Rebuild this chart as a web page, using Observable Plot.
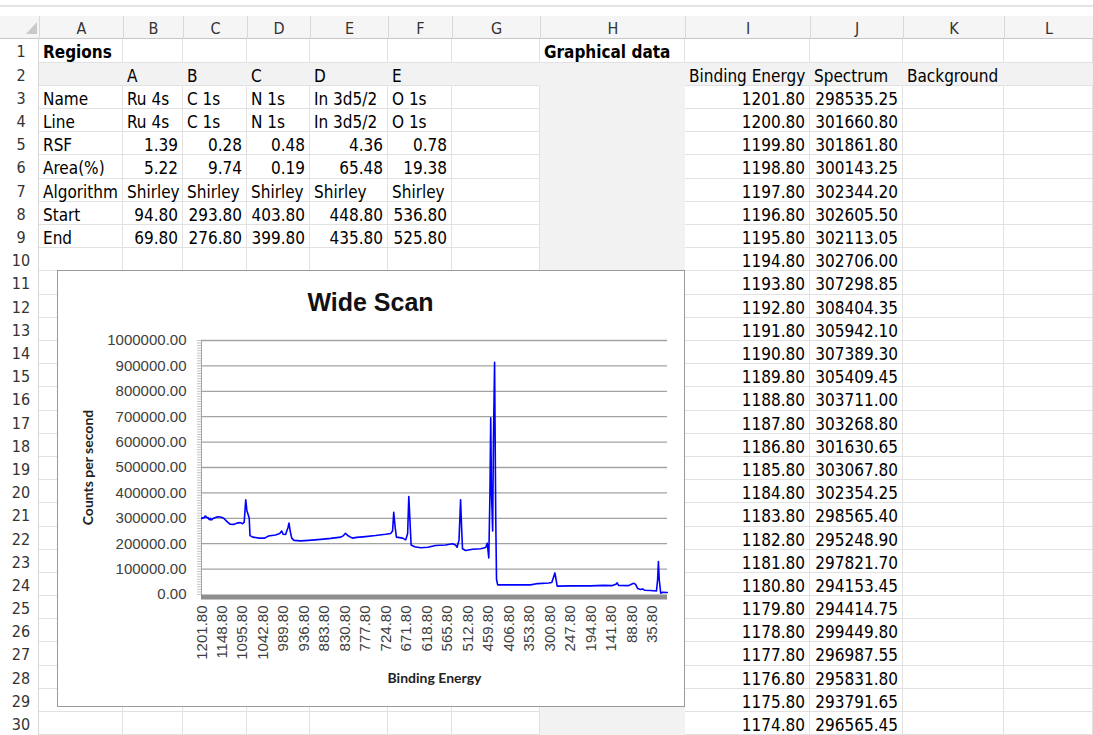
<!DOCTYPE html>
<html><head><meta charset="utf-8">
<script src="https://cdn.jsdelivr.net/npm/d3@7"></script>
<script src="https://cdn.jsdelivr.net/npm/@observablehq/plot@0.6"></script>
<style>
body{margin:0;width:1093px;height:735px;overflow:hidden;background:#fff;position:relative;font-family:"DejaVu Sans Condensed","DejaVu Sans",sans-serif;}
.cell{position:absolute;box-sizing:border-box;font-size:17px;line-height:23px;padding:2px 4px 0 4px;white-space:nowrap;color:#000;overflow:visible;}
.hdr{position:absolute;box-sizing:border-box;font-size:16px;color:#333;text-align:center;line-height:22px;padding-top:2px;}
#chart{position:absolute;left:57px;top:270px;width:628px;height:437px;background:#fff;outline:1px solid #9a9a9a;outline-offset:-1px;}
#chart svg{display:block;}
</style></head><body>
<div id="sheet"></div>
<div id="chart"></div>
<script>
// ---------- data ----------
const regionIds = ["A", "B", "C", "D", "E"];
const regionNames = ["Ru 4s", "C 1s", "N 1s", "In 3d5/2", "O 1s"];
const regionLines = ["Ru 4s", "C 1s", "N 1s", "In 3d5/2", "O 1s"];
const regionRSF = [1.39, 0.28, 0.48, 4.36, 0.78];
const regionArea = [5.22, 9.74, 0.19, 65.48, 19.38];
const regionAlgorithm = ["Shirley", "Shirley", "Shirley", "Shirley", "Shirley"];
const regionStart = [94.80, 293.80, 403.80, 448.80, 536.80];
const regionEnd = [69.80, 276.80, 399.80, 435.80, 525.80];
const regionRowLabels = ["Name", "Line", "RSF", "Area(%)", "Algorithm", "Start", "End"];
const graphHeaders = ["Binding Energy", "Spectrum", "Background"];

const tableEnergy = [1201.8,1200.8,1199.8,1198.8,1197.8,1196.8,1195.8,1194.8,1193.8,1192.8,1191.8,1190.8,1189.8,1188.8,1187.8,1186.8,1185.8,1184.8,1183.8,1182.8,1181.8,1180.8,1179.8,1178.8,1177.8,1176.8,1175.8,1174.8];
const tableSpectrum = [298535.25,301660.80,301861.80,300143.25,302344.20,302605.50,302113.05,302706.00,307298.85,308404.35,305942.10,307389.30,305409.45,303711.00,303268.80,301630.65,303067.80,302354.25,298565.40,295248.90,297821.70,294153.45,294414.75,299449.80,296987.55,295831.80,293791.65,296565.45];

const traceEnergy = [1170.8,1160.8,1152.8,1144.8,1136.8,1128.8,1118.8,1110.8,1102.8,1095.8,1091.8,1087.8,1084.8,1080.8,1078.8,1076.8,1069.8,1053.8,1038.8,1028.8,1010.8,999.8,994.8,990.8,984.8,978.8,975.8,972.8,968.8,962.8,945.8,924.8,893.8,867.8,841.8,834.8,829.8,821.8,811.8,800.8,777.8,751.8,725.8,712.8,707.8,704.8,700.8,697.8,681.8,673.8,668.8,665.8,662.8,659.8,650.8,634.8,616.8,596.8,570.8,552.8,544.8,540.8,535.8,531.8,528.8,526.8,518.8,500.8,479.8,466.8,462.8,458.8,455.8,453.8,451.8,448.8,446.8,443.8,440.8,438.8,435.8,402.8,350.8,331.8,303.8,295.8,289.8,287.8,284.8,281.8,246.8,195.8,161.8,138.8,129.8,126.8,122.8,96.8,89.8,83.8,78.8,73.8,65.8,60.8,55.8,40.8,24.8,21.8,19.8,17.8,13.8,8.8,-3.2];
const traceSpectrum = [300000,306000,305000,300000,288000,277000,276000,281000,283000,279000,285000,373000,330000,311000,300000,232000,226000,222000,222000,230000,234000,240000,250000,237000,236000,262000,281000,250000,222000,213000,211000,213000,217000,221000,226000,232000,241000,230000,222000,225000,228000,232000,237000,240000,250000,324000,260000,226000,222000,215000,240000,386000,290000,195000,188000,184000,186000,193000,195000,200000,195000,186000,215000,373000,250000,180000,173000,178000,180000,185000,202000,144000,400000,696000,400000,250000,600000,914000,300000,60000,38000,38000,38000,43000,45000,47000,75000,85000,60000,33000,34000,34000,36000,35000,40000,46000,36000,35000,40000,44000,40000,24000,20000,22000,17000,16000,14000,60000,130000,60000,5000,9000,8000];

const xTickLabels = [1201.8,1148.8,1095.8,1042.8,989.8,936.8,883.8,830.8,777.8,724.8,671.8,618.8,565.8,512.8,459.8,406.8,353.8,300.8,247.8,194.8,141.8,88.8,35.8];
const yTickValues = [0,100000,200000,300000,400000,500000,600000,700000,800000,900000,1000000];
const yMinorStep = 10000;

// ---------- sheet layout ----------
const colLetters = ["A","B","C","D","E","F","G","H","I","J","K","L"];
const colEdges = [39,123,183,247,310,388,452,540,685,810,903,1004,1093];
const rowTop0 = 39.3, rowH = 23.2, nRows = 30;
const rowTop = r => Math.round(rowTop0 + (r - 1) * rowH);
const grid = "#e1e1e1", shade = "#f2f2f2";
const sheet = document.getElementById("sheet");
function div(cls, css, text){const d=document.createElement("div");if(cls)d.className=cls;d.style.cssText=css;if(text!=null)d.textContent=text;sheet.appendChild(d);return d;}

// top strip + column header row
div(null,"position:absolute;left:0;top:5px;width:1093px;height:2px;background:#e4e4e4;");
div(null,"position:absolute;left:0;top:16px;width:1093px;height:23.3px;background:#f5f5f5;border-bottom:1px solid #c8c8c8;box-sizing:border-box;");
div(null,"position:absolute;left:26px;top:22px;width:0;height:0;border-left:11px solid transparent;border-bottom:12px solid #c9c9c9;");
colLetters.forEach((L,i)=>{
  div("hdr",`left:${colEdges[i]}px;top:16px;width:${colEdges[i+1]-colEdges[i]}px;height:23px;border-left:1px solid #d8d8d8;`,L);
});
// row numbers
for(let r=1;r<=nRows;r++){
  const t=rowTop(r), h=rowTop(r+1)-t;
  div("hdr",`left:4px;top:${t}px;width:35px;height:${h}px;line-height:${h-2}px;border-right:1px solid #d8d8d8;`,String(r));
}
// cell contents
const content = {};
function put(r,c,text,opt={}){content[r+","+c]={text,...opt};}
put(1,0,"Regions",{bold:true});
put(1,7,"Graphical data",{bold:true});
regionIds.forEach((v,i)=>put(2,i+1,v));
graphHeaders.forEach((v,i)=>put(2,8+i,v));
regionRowLabels.forEach((v,i)=>put(3+i,0,v));
regionIds.forEach((_,i)=>{
  put(3,i+1,regionNames[i]);
  put(4,i+1,regionLines[i]);
  put(5,i+1,regionRSF[i].toFixed(2),{right:true});
  put(6,i+1,regionArea[i].toFixed(2),{right:true});
  put(7,i+1,regionAlgorithm[i]);
  put(8,i+1,regionStart[i].toFixed(2),{right:true});
  put(9,i+1,regionEnd[i].toFixed(2),{right:true});
});
tableEnergy.forEach((e,i)=>{
  put(3+i,8,e.toFixed(2),{right:true});
  put(3+i,9,tableSpectrum[i].toFixed(2),{right:true});
});
for(let r=1;r<=nRows;r++){
  const t=rowTop(r), h=rowTop(r+1)-t;
  for(let c=0;c<colLetters.length;c++){
    const x=colEdges[c], w=colEdges[c+1]-x;
    const isH = c===7 && r>=2;
    const isRow2 = r===2;
    const bg = (isH||isRow2)?shade:"#fff";
    const bR = isH||isRow2 ? shade : grid;
    const bB = isH ? shade : grid;
    const k=content[r+","+c];
    div("cell",`left:${x}px;top:${t}px;width:${w}px;height:${h}px;background:${bg};border-right:1px solid ${bR};border-bottom:1px solid ${bB};`+
      (k&&k.right?"text-align:right;":"")+(k&&k.bold?"font-weight:bold;":""), k?k.text:null);
  }
}

// ---------- chart ----------
const series = tableEnergy.map((e,i)=>({be:e,cps:tableSpectrum[i]}))
  .concat(traceEnergy.map((e,i)=>({be:e,cps:traceSpectrum[i]})));
const minorTicks = d3.range(yTickValues[0], yTickValues[yTickValues.length-1]+1, yMinorStep);
const labelFont = "'Liberation Sans', Arial, sans-serif";
const titleFont = "Lato, 'Liberation Sans', sans-serif";

const chart = Plot.plot({
  width: 628, height: 437,
  marginLeft: 144, marginRight: 18, marginTop: 70, marginBottom: 113,
  style: {fontFamily: labelFont, fontSize: "15px", color: "#404040", background: "transparent"},
  x: {type: "linear", domain: [1202.3, -3.7], label: null},
  y: {domain: [0, 1000000], label: null},
  marks: [
    Plot.gridY(yTickValues.slice(1), {stroke: "#a3a3a3", strokeOpacity: 1, strokeWidth: 1.3}),
    Plot.axisY({ticks: minorTicks, tickSize: 4, tickFormat: () => "", stroke: "#c4c4c4"}),
    Plot.axisY({ticks: yTickValues, tickSize: 0, tickPadding: 15, tickFormat: d => d.toFixed(2), fill: "#404040", fontSize: 15}),
    Plot.frame({anchor: "left", stroke: "#a3a3a3"}),
    Plot.ruleY([0], {stroke: "#8e8e8e", strokeWidth: 5, dy: 2.5}),
    Plot.axisX({ticks: xTickLabels, tickSize: 0, tickRotate: -90, tickPadding: 11, tickFormat: d => d.toFixed(2), fill: "#404040", fontSize: 15}),
    Plot.line(series, {x: "be", y: "cps", stroke: "#0000ff", strokeWidth: 1.6}),
    Plot.text(["Wide Scan"], {text: d => d, frameAnchor: "top", lineAnchor: "middle", dx: -64, dy: -38, fontSize: 25, fontWeight: "bold", fill: "#111", fontFamily: labelFont}),
    Plot.text(["Counts per second"], {text: d => d, frameAnchor: "left", textAnchor: "middle", lineAnchor: "middle", rotate: -90, dx: -113, fontSize: 14, fontWeight: "bold", fill: "#222", fontFamily: titleFont}),
    Plot.text(["Binding Energy"], {text: d => d, frameAnchor: "bottom", lineAnchor: "middle", dy: 84, fontSize: 14, fontWeight: "bold", fill: "#222", fontFamily: titleFont})
  ]
});
document.getElementById("chart").appendChild(chart);
</script>
</body></html>
